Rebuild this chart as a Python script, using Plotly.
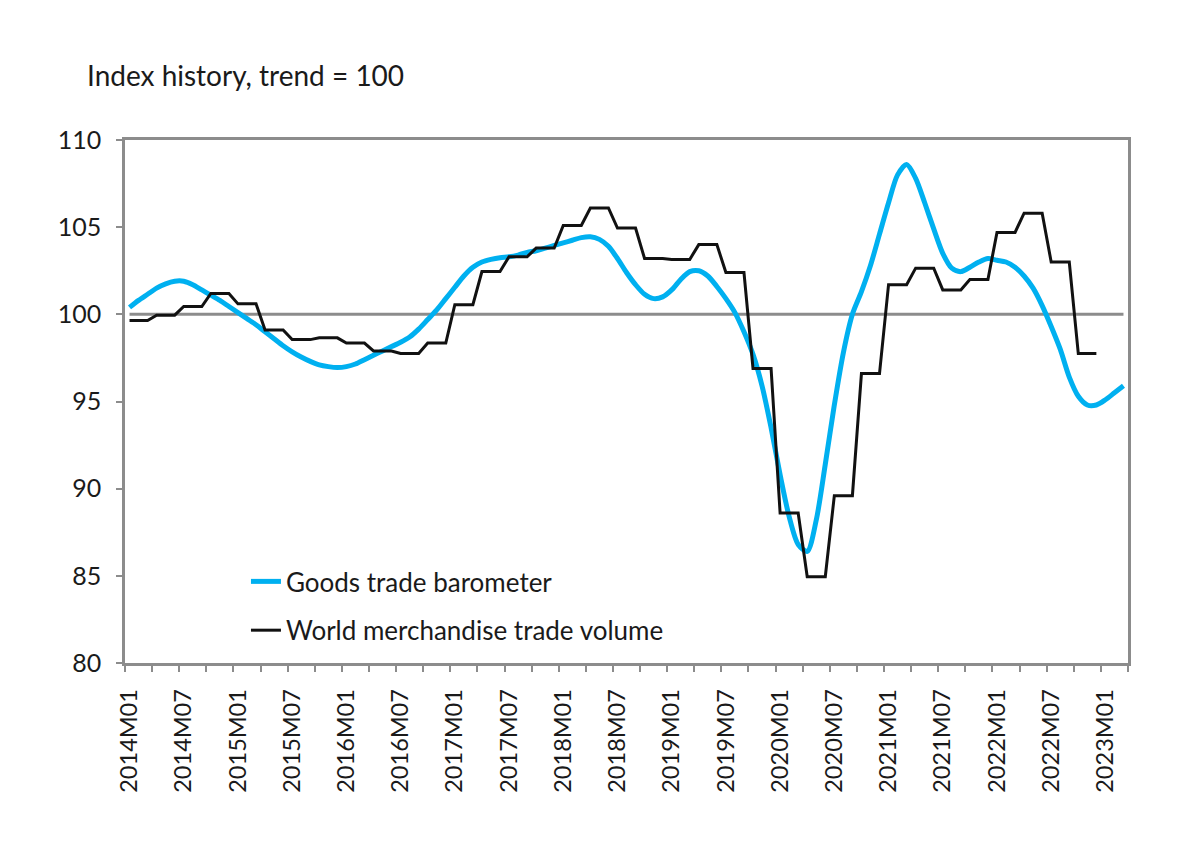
import plotly.graph_objects as go

# Categories: monthly, 2014M01 .. 2023M03
years = list(range(2014, 2024))
months = [f"{y}M{m:02d}" for y in years for m in range(1, 13)][:111]

# Goods trade barometer (monthly)
barometer = [
    100.4, 100.8, 101.15, 101.5, 101.75, 101.9, 101.9, 101.7, 101.4, 101.1, 100.8, 100.45,
    100.1, 99.75, 99.4, 99.0, 98.6, 98.2, 97.85, 97.55, 97.3, 97.1, 97.0, 96.95,
    97.0, 97.15, 97.4, 97.65, 97.9, 98.15, 98.4, 98.7, 99.15, 99.7, 100.25, 100.9,
    101.55, 102.2, 102.7, 103.0, 103.15, 103.25, 103.3, 103.4, 103.55, 103.65, 103.8, 103.95,
    104.1, 104.25, 104.4, 104.45, 104.3, 103.9, 103.2, 102.4, 101.7, 101.15, 100.9, 101.0,
    101.4, 102.0, 102.45, 102.5, 102.2, 101.6, 100.9, 100.1, 99.0, 97.7, 95.9, 93.5,
    90.8, 88.4, 86.8, 86.4, 88.2, 91.4, 94.8, 97.8, 100.0, 101.3, 102.8, 104.6,
    106.4, 108.0, 108.6, 107.8, 106.4, 104.9, 103.5, 102.65, 102.45, 102.7, 103.0, 103.2,
    103.1, 103.0, 102.7, 102.2, 101.5, 100.5, 99.3, 98.0, 96.4, 95.3, 94.8, 94.8,
    95.1, 95.5, 95.9,
]

# World merchandise trade volume (quarterly, 2014Q1 .. 2022Q4)
volume_q = [
    99.65, 99.95, 100.45, 101.2,
    100.6, 99.1, 98.55, 98.65,
    98.35, 97.9, 97.75, 98.35,
    100.55, 102.45, 103.3, 103.8,
    105.1, 106.1, 104.95, 103.2,
    103.15, 104.0, 102.4, 96.9,
    88.6, 84.95, 89.6, 96.6,
    101.7, 102.65, 101.4, 102.0,
    104.7, 105.8, 103.0, 97.75,
]
# each quarterly value applies to its three months
volume = [v for v in volume_q for _ in range(3)]

trend = [100] * len(months)

# tick labels every 6 months
tick_idx = list(range(0, len(months), 6))
tick_text = [months[i] for i in tick_idx]

idx = list(range(len(months)))

fig = go.Figure()
fig.add_trace(go.Scatter(
    x=idx, y=trend, mode="lines", line=dict(color="#8c8c8c", width=3),
    showlegend=False, hoverinfo="skip"))
fig.add_trace(go.Scatter(
    x=idx, y=barometer, mode="lines", name="Goods trade barometer",
    line=dict(color="#00b0f0", width=5, shape="spline", smoothing=0.8),
    legendgroup="a"))
fig.add_trace(go.Scatter(
    x=idx[:len(volume)], y=volume, mode="lines", name="World merchandise trade volume",
    line=dict(color="#111111", width=3),
    legendgroup="b"))

font_family = "Lato, 'Open Sans', sans-serif"

fig.update_layout(
    width=1192, height=854,
    paper_bgcolor="white", plot_bgcolor="white",
    margin=dict(l=117, r=72, t=132, b=199),
    font=dict(family=font_family, size=22, color="#1a1a1a"),
    showlegend=True,
    legend=dict(
        x=0.1206, y=0.2008, xanchor="left", yanchor="top",
        bgcolor="rgba(0,0,0,0)", font=dict(size=26, color="#1a1a1a"),
        traceorder="grouped", tracegroupgap=12,
    ),
    annotations=[dict(
        text="Index history, trend = 100", xref="paper", yref="paper",
        x=-0.04, y=1.124, xanchor="left", yanchor="middle", showarrow=False,
        font=dict(size=28, color="#1a1a1a"))],
)

fig.update_xaxes(
    range=[-0.5, len(months) - 0.5],
    tickmode="array", tickvals=tick_idx, ticktext=tick_text,
    tickangle=-90, ticks="", tickfont=dict(size=23.5), ticklabelstandoff=14,
    showline=True, linecolor="#8c8c8c", linewidth=2.5, mirror=True,
    showgrid=False, zeroline=False,
    minor=dict(ticks="outside", tickmode="array",
               tickvals=[i - 0.5 for i in range(0, len(months) + 1, 3)],
               ticklen=6, tickcolor="#8c8c8c", tickwidth=2, showgrid=False),
)
fig.update_yaxes(
    range=[80, 110], tickmode="linear", tick0=80, dtick=5,
    ticks="outside", ticklen=6, tickcolor="#8c8c8c", tickwidth=2,
    tickfont=dict(size=25), ticklabelstandoff=10,
    showline=True, linecolor="#8c8c8c", linewidth=2.5, mirror=True,
    showgrid=False, zeroline=False,
)

fig.write_html("out.html")
